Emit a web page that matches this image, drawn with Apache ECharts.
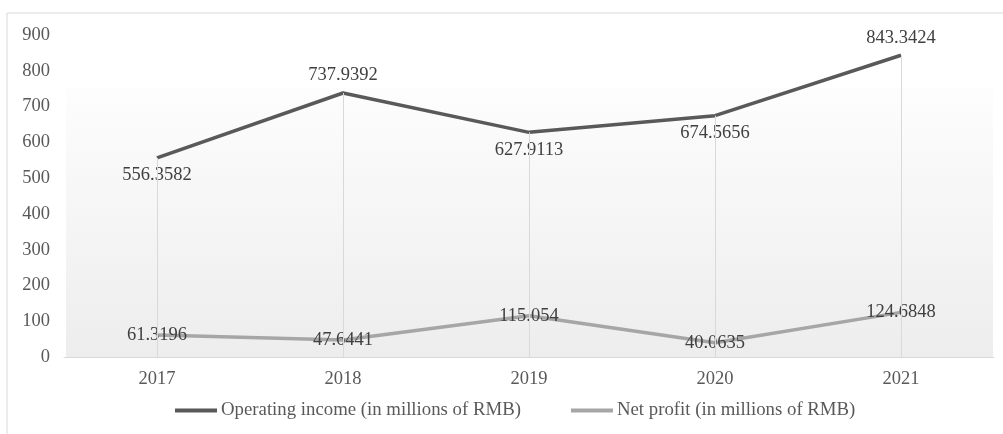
<!DOCTYPE html>
<html><head><meta charset="utf-8">
<script src="https://cdn.jsdelivr.net/npm/echarts@6/dist/echarts.min.js"></script>
<style>html,body{margin:0;padding:0;background:#fff}#c{width:1003px;height:434px}</style>
</head><body><div id="c"></div>
<script>
const years = ['2017','2018','2019','2020','2021'];
const operatingIncome = [556.3582, 737.9392, 627.9113, 674.5656, 843.3424];
const netProfit = [61.3196, 47.6441, 115.054, 40.0635, 124.6848];
const incomeLabelPos = ['bottom','top','bottom','bottom','top'];
const yTicks = [0,100,200,300,400,500,600,700,800,900];

const font = 'Liberation Serif, Times New Roman, serif';
const chart = echarts.init(document.getElementById('c'));
const dropLines = operatingIncome.map((v,i)=>[{coord:[i,0]},{coord:[i,v]}]);
chart.setOption({
  animation:false,
  textStyle:{fontFamily:font},
  graphic:[
    {type:'rect',z:-10,shape:{x:7,y:13,width:1100,height:600},style:{fill:'#fff',stroke:'#d9d9d9',lineWidth:1}},
    {type:'rect',z:-9,shape:{x:66,y:88,width:927,height:269},style:{fill:new echarts.graphic.LinearGradient(0,0,0,1,[{offset:0,color:'#fdfdfd'},{offset:1,color:'#ededed'}])}}
  ],
  grid:{left:64,right:9,top:35,bottom:77},
  xAxis:{type:'category',data:years,boundaryGap:true,
    axisLine:{lineStyle:{color:'#d9d9d9',width:1}},axisTick:{show:false},
    axisLabel:{color:'#595959',fontSize:18.5,fontFamily:font,margin:13}},
  yAxis:{type:'value',min:0,max:900,interval:100,
    axisLine:{show:false},axisTick:{show:false},splitLine:{show:false},
    axisLabel:{color:'#595959',fontSize:18.5,fontFamily:font,margin:14,
      formatter:v=>yTicks.includes(v)?String(v):''}},
  legend:{top:401,left:175,padding:0,itemWidth:42,itemHeight:4,itemGap:50,icon:'rect',
    textStyle:{color:'#595959',fontSize:18.8,fontFamily:font,padding:[0,0,0,-1]},
    data:['Operating income (in millions of RMB)','Net profit (in millions of RMB)']},
  series:[
    {name:'Operating income (in millions of RMB)',type:'line',data:operatingIncome.map((v,i)=>({value:v,label:{position:incomeLabelPos[i]}})),
      symbol:'circle',symbolSize:0,showSymbol:true,lineStyle:{color:'#595959',width:3.5},itemStyle:{color:'#595959'},
      label:{show:true,color:'#404040',fontSize:18.5,fontFamily:font,distance:8,formatter:p=>String(p.value)},
      markLine:{silent:true,symbol:'none',label:{show:false},lineStyle:{color:'#d9d9d9',width:1,type:'solid'},data:dropLines},
      z:3},
    {name:'Net profit (in millions of RMB)',type:'line',data:netProfit,
      symbol:'circle',symbolSize:0,showSymbol:true,lineStyle:{color:'#a6a6a6',width:3.5},itemStyle:{color:'#a6a6a6'},
      label:{show:true,position:'inside',color:'#404040',fontSize:18.5,fontFamily:font,formatter:p=>String(p.value)},
      z:3}
  ]
});
</script></body></html>
